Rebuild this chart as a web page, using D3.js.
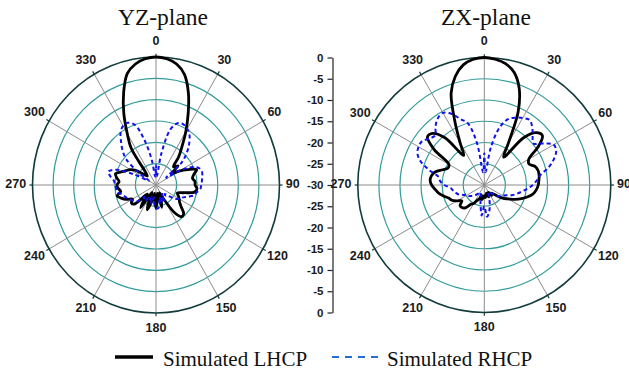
<!DOCTYPE html>
<html>
<head>
<meta charset="utf-8">
<script src="https://cdn.jsdelivr.net/npm/d3@7"></script>
<style>
  body { margin: 0; background: #fff; }
  svg { display: block; }
</style>
</head>
<body>
<div id="chart"></div>
<script>
// angles in degrees, 5 degree steps
const angles = d3.range(0, 360, 5);

// gain in dB, one value per angle
const yzLHCP = [0, -0.3, -1.2, -3.2, -7, -11.5, -15.5, -19, -21.5, -24, -23, -25.5,
  -23.5, -21.5, -19.5, -20.5, -21, -20.5, -20.5, -20, -20.5, -23, -24.5, -24,
  -23.5, -23, -22, -20.5, -20.3, -22, -26, -28, -26.5, -24.6, -28, -26.5,
  -24.5, -26.5, -28, -26, -23.8, -26, -28, -23.5, -25.5, -27, -23, -22.7,
  -23.4, -22, -21, -20.2, -21.3, -20.8, -20.5, -21, -20.3, -19.8, -21, -22,
  -22.8, -24, -26, -27, -26, -19.5, -16, -11.5, -7, -3, -1.2, -0.3];

const yzRHCP = [-25.3, -28, -22.5, -16.5, -14.6, -14.3, -14.8, -15.8, -17.5, -19.5, -22, -27,
  -23, -20, -18.7, -18.4, -18.6, -18.8, -19, -19.2, -20, -20.5, -22, -23,
  -23.5, -24.4, -26, -27, -26.5, -27.5, -26, -27, -25.5, -27, -25, -24.5,
  -24.5, -25.5, -27, -25.5, -27, -26, -26.5, -25.5, -25.5, -26, -24, -23.5,
  -23, -22.5, -22, -21.5, -20.4, -20.3, -20, -19.8, -18.8, -18, -19.5, -24,
  -28, -24.5, -20.5, -18.5, -16.8, -15, -14, -13.9, -15, -19, -24, -28];

const zxLHCP = [0, -0.3, -1, -2.6, -5.8, -11, -18.5, -22, -15.5, -12.6, -12, -14.5,
  -17.8, -18.3, -17.2, -16.8, -16.8, -17, -17.2, -17.6, -18.2, -19.3, -20.6, -22,
  -23.5, -24.5, -26, -27, -27.5, -27, -28, -27.5, -27, -28, -27.5, -27,
  -27.5, -27, -26.5, -27.5, -26.5, -26, -25, -24.5, -23, -22.5, -22.5, -23.5,
  -22.5, -21.5, -21, -20, -19, -18.3, -17.5, -17.1, -17.3, -18, -19.5, -20.5,
  -20.3, -15.5, -12.4, -12.8, -15.5, -21.5, -18.5, -13.5, -7, -3.5, -1.3, -0.3];

const zxRHCP = [-22.5, -27, -21, -16, -13.5, -12.5, -11.8, -11.3, -12.3, -13.8, -14.8, -13,
  -11, -11.2, -12.5, -14.3, -16.5, -17.5, -18.5, -19.8, -21, -22, -23, -24.3,
  -25, -25.5, -26, -27, -27.5, -28, -28, -27.5, -26.5, -25, -23.5, -22.5,
  -25, -22.8, -25, -26.5, -27.5, -28, -28, -27.5, -27, -26.5, -26, -25.5,
  -25.5, -24.5, -23.5, -23, -22.5, -22, -20.5, -19.5, -19, -16.5, -14, -12.5,
  -12, -12, -13, -13.5, -12, -10.8, -10.4, -11.5, -13.5, -15, -20, -27];

const rings = [-25, -20, -15, -10, -5];
const angleTicks = d3.range(0, 360, 30);
const axisTop = [0, -5, -10, -15, -20, -25, -30];
const axisBottom = [-25, -20, -15, -10, -5, 0];
const legendItems = ["Simulated LHCP", "Simulated RHCP"];

const width = 629, height = 381;

const svg = d3.select("#chart").append("svg")
  .attr("width", width)
  .attr("height", height);

svg.append("rect").attr("width", width).attr("height", height).attr("fill", "#fff");

const r = d3.scaleLinear().domain([-30, 0]).range([0, 1]).clamp(true);

const panels = [
  { title: "YZ-plane", tx: 163, cx: 156, cy: 185, rx: 123.5, ry: 128, lhcp: yzLHCP, rhcp: yzRHCP },
  { title: "ZX-plane", tx: 486, cx: 484.3, cy: 185, rx: 126.5, ry: 127.5, lhcp: zxLHCP, rhcp: zxRHCP }
];

panels.forEach(p => {
  const g = svg.append("g");
  const px = (a, f) => p.cx + p.rx * f * Math.sin(a * Math.PI / 180);
  const py = (a, f) => p.cy - p.ry * f * Math.cos(a * Math.PI / 180);

  // rings
  g.selectAll("ellipse.ring")
    .data(rings)
    .enter().append("ellipse")
    .attr("cx", p.cx).attr("cy", p.cy)
    .attr("rx", d => p.rx * r(d))
    .attr("ry", d => p.ry * r(d))
    .attr("fill", "none")
    .attr("stroke", "#329b9b")
    .attr("stroke-width", 1.2);

  // spokes
  g.selectAll("line.spoke")
    .data(angleTicks)
    .enter().append("line")
    .attr("x1", p.cx).attr("y1", p.cy)
    .attr("x2", d => px(d, 1)).attr("y2", d => py(d, 1))
    .attr("stroke", "#8c8c8c")
    .attr("stroke-width", 1);

  // outer ticks
  g.selectAll("line.otick")
    .data(angleTicks)
    .enter().append("line")
    .attr("x1", d => px(d, 1)).attr("y1", d => py(d, 1))
    .attr("x2", d => px(d, 1.025)).attr("y2", d => py(d, 1.025))
    .attr("stroke", "#123c3c")
    .attr("stroke-width", 1.2);

  // outer circle
  g.append("ellipse")
    .attr("cx", p.cx).attr("cy", p.cy)
    .attr("rx", p.rx).attr("ry", p.ry)
    .attr("fill", "none")
    .attr("stroke", "#123c3c")
    .attr("stroke-width", 1.6);

  // angle labels
  g.selectAll("text.ang")
    .data(angleTicks)
    .enter().append("text")
    .attr("x", d => p.cx + Math.sin(d * Math.PI / 180) * (p.rx + 6 + 3.6 * String(d).length))
    .attr("y", d => p.cy - Math.cos(d * Math.PI / 180) * (p.ry + 15.5) - 1.5)
    .attr("dy", "0.36em")
    .attr("text-anchor", "middle")
    .style("font-family", "'Liberation Sans', Arial, sans-serif")
    .style("font-weight", "bold")
    .style("font-size", "12.5px")
    .attr("fill", "#1a1a1a")
    .text(d => d);

  // title
  g.append("text")
    .attr("x", p.tx).attr("y", 25)
    .attr("text-anchor", "middle")
    .style("font-family", "'Liberation Serif', 'Times New Roman', serif")
    .style("font-size", "23.5px")
    .attr("fill", "#111")
    .text(p.title);

  const line = d3.line()
    .x((d, i) => px(angles[i], r(d)))
    .y((d, i) => py(angles[i], r(d)))
    .curve(d3.curveCatmullRomClosed.alpha(0.5));

  g.append("path")
    .attr("d", line(p.lhcp))
    .attr("fill", "none")
    .attr("stroke", "#000")
    .attr("stroke-width", 2.8)
    .attr("stroke-linejoin", "round");

  g.append("path")
    .attr("d", line(p.rhcp))
    .attr("fill", "none")
    .attr("stroke", "#1010f0")
    .attr("stroke-width", 2)
    .attr("stroke-dasharray", "4,3");
});

// middle dB axis
const ax = 332.5;
const cy = 185, ry = 127.5;
const yTop = d3.scaleLinear().domain([-30, 0]).range([cy, cy - ry]);
const yBot = d3.scaleLinear().domain([-30, 0]).range([cy, cy + ry]);

const axG = svg.append("g").attr("transform", `translate(${ax},0)`);
axG.append("g").call(d3.axisLeft(yTop).tickValues(axisTop).tickFormat(d3.format("d")).tickSize(5).tickSizeOuter(0).tickPadding(4));
axG.append("g").call(d3.axisLeft(yBot).tickValues(axisBottom).tickFormat(d3.format("d")).tickSize(5).tickSizeOuter(0).tickPadding(4));
axG.selectAll("path, line").attr("stroke", "#222").attr("stroke-width", 1.2);
axG.selectAll("text")
  .style("font-family", "'Liberation Sans', Arial, sans-serif")
  .style("font-weight", "bold")
  .style("font-size", "11.5px")
  .attr("fill", "#1a1a1a")
  .text(function () { return this.textContent.replace("\u2212", "-"); });

// legend
const lg = svg.append("g");
lg.append("line").attr("x1", 115).attr("x2", 153).attr("y1", 357).attr("y2", 357)
  .attr("stroke", "#000").attr("stroke-width", 3.5);
lg.append("text").attr("x", 163).attr("y", 366)
  .style("font-family", "'Liberation Serif', 'Times New Roman', serif")
  .style("font-size", "21px").attr("fill", "#111")
  .text(legendItems[0]);
lg.append("line").attr("x1", 332).attr("x2", 380).attr("y1", 357).attr("y2", 357)
  .attr("stroke", "#1f6fd6").attr("stroke-width", 2).attr("stroke-dasharray", "7,6");
lg.append("text").attr("x", 387).attr("y", 366)
  .style("font-family", "'Liberation Serif', 'Times New Roman', serif")
  .style("font-size", "21px").attr("fill", "#111")
  .text(legendItems[1]);
</script>
</body>
</html>
